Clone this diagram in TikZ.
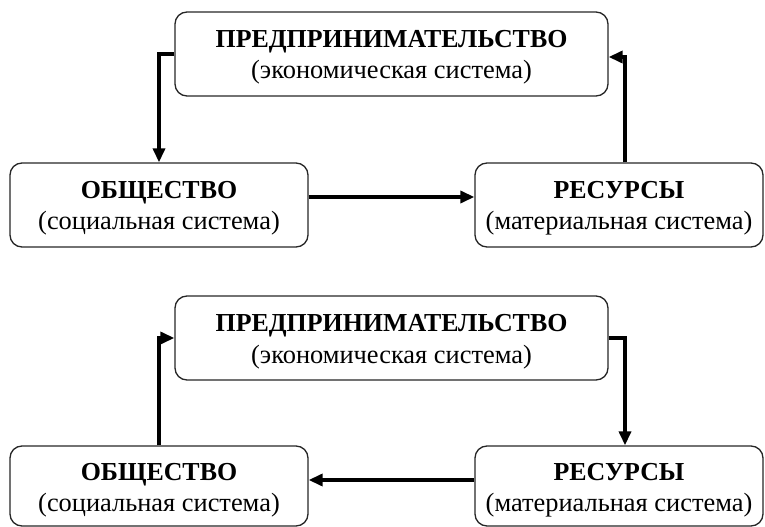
\documentclass[tikz,border=0pt]{standalone}
\usepackage{fontspec}
\setmainfont{Liberation Serif}
\usetikzlibrary{arrows.meta}
\begin{document}
\begin{tikzpicture}[x=1bp,y=-1bp,
  box/.style={draw=black!85,line width=1.3bp,rounded corners=12bp,inner sep=0pt},
  ttl/.style={anchor=base,inner sep=0pt,font=\fontsize{26}{30}\selectfont\bfseries},
  sub/.style={anchor=base,inner sep=0pt,font=\fontsize{26.5}{30}\selectfont},
  conn/.style={line width=3.4bp,-{Triangle[length=14bp,width=12bp]}}]
\useasboundingbox (0,0) rectangle (765,527);
% top diagram
\node[box,minimum width=433bp,minimum height=84bp] (P1) at (391.5,54) {};
\node[ttl] (P1t) at (391.5,47.5) {ПРЕДПРИНИМАТЕЛЬСТВО};
\node[sub] (P1s) at (391.5,79) {(экономическая система)};
\node[box,minimum width=298bp,minimum height=84bp] (O1) at (159,205) {};
\node[ttl] (O1t) at (159,198.5) {ОБЩЕСТВО};
\node[sub] (O1s) at (159,230) {(социальная система)};
\node[box,minimum width=288bp,minimum height=84bp] (R1) at (619,205) {};
\node[ttl] (R1t) at (619,198.5) {РЕСУРСЫ};
\node[sub] (R1s) at (619,230) {(материальная система)};
\draw[conn] (P1.west) -| (O1.north);
\draw[conn] ([yshift=8bp]O1.east) -- ([yshift=8bp]R1.west);
\draw[conn] ([xshift=6bp]R1.north) |- ([yshift=-3bp]P1.east);
% bottom diagram
\node[box,minimum width=433bp,minimum height=84bp] (P2) at (391.5,338) {};
\node[ttl] (P2t) at (391.5,331.5) {ПРЕДПРИНИМАТЕЛЬСТВО};
\node[sub] (P2s) at (391.5,363) {(экономическая система)};
\node[box,minimum width=298bp,minimum height=80bp] (O2) at (159,486) {};
\node[ttl] (O2t) at (159,480) {ОБЩЕСТВО};
\node[sub] (O2s) at (159,511) {(социальная система)};
\node[box,minimum width=288bp,minimum height=80bp] (R2) at (619,486) {};
\node[ttl] (R2t) at (619,480) {РЕСУРСЫ};
\node[sub] (R2s) at (619,511) {(материальная система)};
\draw[conn] (O2.north) |- (P2.west);
\draw[conn] (P2.east) -| ([xshift=6bp]R2.north);
\draw[conn] ([yshift=6bp]R2.west) -- ([yshift=6bp]O2.east);
\end{tikzpicture}
\end{document}
